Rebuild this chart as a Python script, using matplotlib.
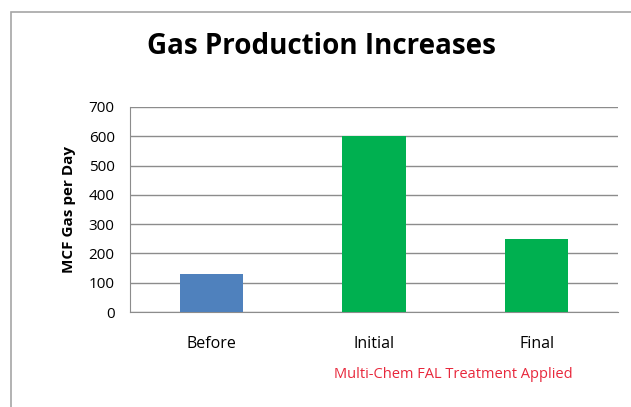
import matplotlib.pyplot as plt
from matplotlib.patches import Rectangle

categories = ['Before', 'Initial', 'Final']
mcf_per_day = [130, 600, 248]
bar_colors = ['#4F81BD', '#00B050', '#00B050']
y_ticks = [0, 100, 200, 300, 400, 500, 600, 700]

plt.rcParams['font.family'] = ['Open Sans', 'DejaVu Sans']

fig = plt.figure(figsize=(6.31, 4.07), dpi=100)
fig.patch.set_facecolor('white')

# outer chart frame (runs off the right and bottom edges)
fig.patches.append(Rectangle((11 / 631, -0.1), 1.0, (407 - 12) / 407 + 0.1,
                             transform=fig.transFigure, fill=False,
                             edgecolor='#A6A6A6', linewidth=1.2))

ax = fig.add_axes([130 / 631, 95 / 407, 488 / 631, 205 / 407])
ax.bar(range(len(categories)), mcf_per_day, width=0.39, color=bar_colors, zorder=3)

ax.set_xlim(-0.5, 2.5)
ax.set_ylim(0, 700)
ax.set_yticks(y_ticks)
ax.set_xticks(range(len(categories)))
ax.set_xticklabels(categories, fontsize=11.5)
ax.tick_params(axis='y', labelsize=11, length=0, pad=11)
ax.tick_params(axis='x', length=0, pad=17)
ax.yaxis.grid(True, color='#8C8C8C', linewidth=1.0, zorder=0)

for side in ['top', 'right']:
    ax.spines[side].set_visible(False)
ax.spines['left'].set_color('#8C8C8C')
ax.spines['bottom'].set_color('#8C8C8C')

ax.set_ylabel('MCF Gas per Day', fontsize=11, fontweight='bold', labelpad=9)

fig.text(321 / 631, 1 - 47 / 407, 'Gas Production Increases', ha='center', va='center',
         fontsize=20, fontweight='bold')
fig.text(453 / 631, 1 - 375 / 407, 'Multi-Chem FAL Treatment Applied', ha='center',
         va='center', fontsize=10.5, color='#E8283C')

fig.savefig('out.png', dpi=100)
